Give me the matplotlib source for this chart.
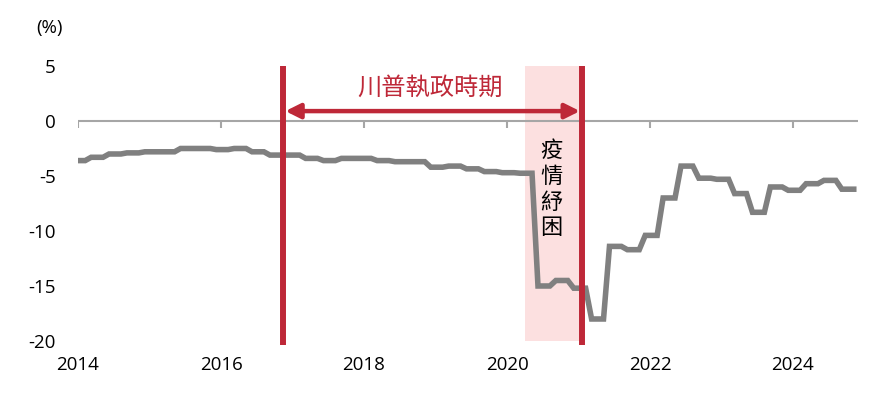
import numpy as np
import matplotlib
matplotlib.use("Agg")
import matplotlib.pyplot as plt

plt.rcParams['font.family'] = ['Noto Sans CJK TC', 'DejaVu Sans']

# quarterly values (each held for three monthly points; first group partial)
q_values = [-3.6, -3.3, -3.0, -2.9, -2.8, -2.8, -2.5, -2.5, -2.6, -2.5,
            -2.8, -3.1, -3.1, -3.4, -3.6, -3.4, -3.4, -3.6, -3.7, -3.7,
            -4.2, -4.1, -4.35, -4.6, -4.7, -4.75, -15.0, -14.5, -15.2, -18.0,
            -11.4, -11.7, -10.4, -7.0, -4.1, -5.2, -5.3, -6.6, -8.3, -6.0,
            -6.3, -5.7, -5.4, -6.2]
group_sizes = [2] + [3] * (len(q_values) - 1)
start_year = 2014

monthly = np.repeat(q_values, group_sizes)
x = start_year + (np.arange(len(monthly)) + 0.2) / 12.0

xticks = [2014, 2016, 2018, 2020, 2022, 2024]
yticks = [5, 0, -5, -10, -15, -20]
trump_start, trump_end = 2016.87, 2021.05
covid_span = (2020.25, 2021.05)
trump_label = "川普執政時期"
covid_label = "疫\n情\n紓\n困"

red = "#BE2838"
latin = ['Open Sans', 'DejaVu Sans']
fig = plt.figure(figsize=(8.95, 3.99), dpi=100)
ax = fig.add_axes([0.0872, 0.1454, 0.9587 - 0.0872, 0.8346 - 0.1454])
ax.set_xlim(2014, 2024.91)
ax.set_ylim(-20, 5)

ax.axvspan(covid_span[0], covid_span[1], color="#FCE0E0", zorder=0, lw=0)
ax.axhline(0, color="#A6A6A6", lw=1.5, zorder=1)
ax.vlines(xticks, -0.65, 0, color="#A6A6A6", lw=1.5, zorder=1)

ax.plot(x, monthly, color="#808080", lw=4.0, zorder=3, solid_joinstyle='miter')

for xv in (trump_start, trump_end):
    ax.plot([xv, xv], [-20.35, 5], color=red, lw=4.3, zorder=4, clip_on=False,
            solid_capstyle='butt')

ax.annotate("", xy=(trump_end - 0.03, 0.9), xytext=(trump_start + 0.03, 0.9),
            arrowprops=dict(arrowstyle='<|-|>', color=red, lw=3.2,
                            mutation_scale=22, shrinkA=0, shrinkB=0), zorder=5)
ax.text((trump_start + trump_end) / 2 - 0.04, 3.0, trump_label, color=red,
        fontsize=17.5, ha='center', va='center', fontweight='medium')
ax.text(2020.62, -6.2, covid_label, color="black", fontsize=16,
        ha='center', va='center', linespacing=1.15)

for s in ax.spines.values():
    s.set_visible(False)
ax.set_xticks(xticks)
ax.set_xticklabels([str(t) for t in xticks], fontsize=13.5, family=latin)
ax.set_yticks(yticks)
ax.set_yticklabels([str(t) for t in yticks], fontsize=13.5, family=latin)
ax.tick_params(axis='x', length=0, pad=11)
ax.tick_params(axis='y', length=0, pad=16)
fig.text(50 / 895, 1 - 28 / 399, "(%)", fontsize=13.5, ha='center', va='center',
         family=latin)

fig.savefig("out.png", dpi=100)
